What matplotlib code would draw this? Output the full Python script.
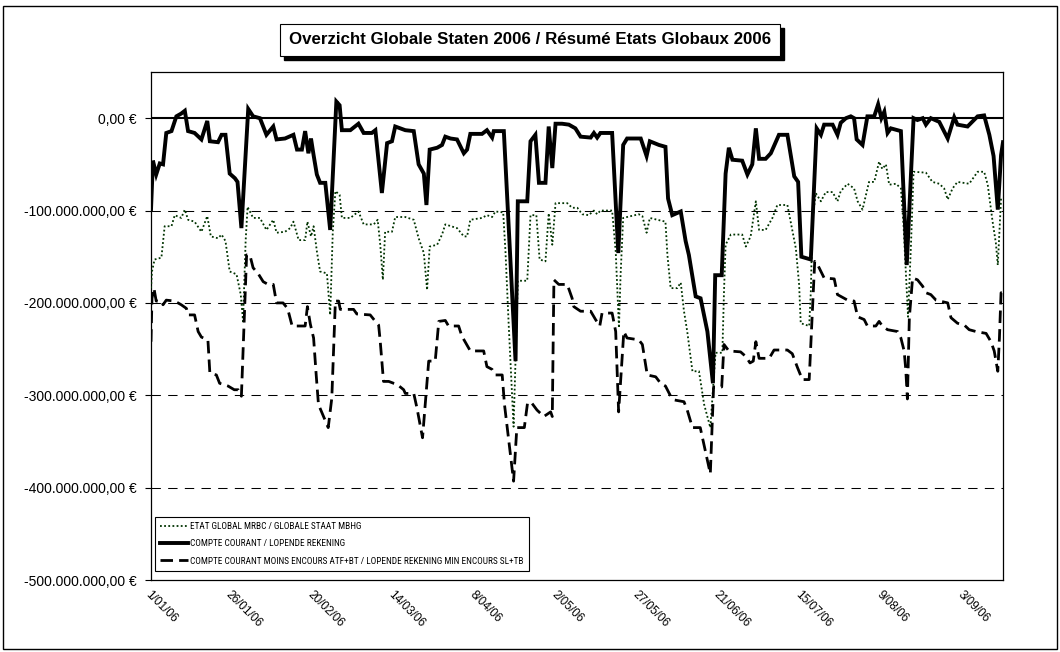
import matplotlib
matplotlib.use("Agg")
import matplotlib.pyplot as plt
import matplotlib.font_manager as fm
from matplotlib.ticker import FuncFormatter, FixedLocator
from matplotlib.patches import Rectangle
from matplotlib.transforms import IdentityTransform

plt.rcParams['font.family'] = ['Liberation Sans', 'DejaVu Sans']

# day index (0 = 1/01/06) and values in millions of euro
courant_x = [
    0, 0.6, 1.6, 2.7, 3.7, 4.7, 6.3, 7.8, 9.3, 10.4,
    11.4, 13.4, 15.5, 17.3, 18.1, 20.6, 21.7, 22.9, 24.2, 25.8,
    26.6, 27.8, 29.9, 31.4, 33.5, 35.5, 37.6, 38.6, 41.2, 43.8,
    44.9, 46.4, 47.4, 48.4, 49.2, 50.0, 51.0, 52.0, 53.6, 55.1,
    57.0, 58.0, 58.7, 61.3, 63.8, 65.4, 67.9, 69.0, 71.0, 72.6,
    74.1, 75.1, 78.2, 80.8, 82.3, 83.9, 84.7, 85.7, 88.0, 89.5,
    90.5, 92.1, 94.1, 96.2, 97.2, 98.2, 101.8, 103.3, 104.9, 105.4,
    108.5, 112.1, 112.8, 115.7, 116.7, 118.2, 119.3, 121.3, 122.3, 123.4,
    124.4, 126.4, 128.5, 130.5, 132.1, 135.2, 136.2, 137.2, 138.2, 141.8,
    143.7, 145.2, 146.4, 150.6, 152.4, 153.4, 156.2, 158.2, 159.0, 160.3,
    162.9, 164.4, 165.4, 167.5, 169.0, 171.1, 172.8, 173.5, 175.5, 176.7,
    177.7, 178.8, 181.8, 183.4, 184.9, 186.0, 187.0, 189.0, 190.6, 193.1,
    195.7, 197.8, 199.0, 200.0, 202.9, 204.7, 206.0, 207.0, 209.6, 211.1,
    212.1, 213.7, 215.2, 216.2, 217.0, 218.8, 220.3, 222.4, 223.6, 224.6,
    225.5, 226.5, 227.5, 230.6, 232.4, 234.5, 235.7, 237.3, 238.3, 239.8,
    242.4, 245.0, 247.0, 248.0, 251.1, 254.2, 256.2, 257.8, 259.1, 260.4,
    261.4, 262.0]
courant_y = [
    -99, -46, -61, -49, -50, -16, -14, 2, 5, 8,
    -14, -16, -23, -3, -25, -26, -18, -18, -60, -65,
    -69, -119, 10, 2, 0, -18, -9, -23, -22, -18,
    -34, -34, -14, -38, -22, -40, -61, -70, -70, -121,
    18, 14, -13, -13, -6, -16, -16, -13, -81, -27,
    -25, -9, -13, -14, -50, -60, -94, -34, -32, -29,
    -20, -22, -23, -38, -34, -17, -17, -13, -21, -14,
    -14, -263, -90, -90, -25, -18, -70, -70, -9, -54,
    -6, -6, -7, -11, -20, -21, -16, -21, -16, -16,
    -146, -29, -22, -22, -41, -25, -29, -31, -87, -105,
    -101, -133, -148, -193, -195, -231, -287, -170, -170, -60,
    -32, -45, -46, -61, -50, -11, -44, -44, -38, -18,
    -18, -63, -69, -150, -153, -11, -18, -7, -7, -18,
    -5, 0, 2, 0, -23, -29, 2, 2, 15, 0,
    7, -16, -11, -14, -159, 0, -2, 0, -7, 0,
    -4, -22, 1, -7, -9, 2, 3, -18, -41, -99,
    -40, -26]

etat_x = [
    0, 0.3, 1.1, 3.2, 4.2, 6.3, 7.3, 9.3, 10.4, 11.4,
    13.4, 15.5, 17.3, 18.4, 20.6, 21.7, 22.9, 24.2, 26.3, 27.6,
    28.3, 29.1, 29.7, 31.4, 33.5, 35.5, 37.6, 38.6, 41.2, 42.8,
    43.8, 45.4, 47.4, 48.1, 49.2, 50.0, 51.0, 52.0, 54.1, 55.1,
    55.9, 56.7, 58.0, 58.7, 61.3, 63.8, 65.4, 68.5, 69.7, 70.5,
    71.3, 72.0, 74.1, 75.1, 78.2, 80.8, 82.3, 83.9, 84.9, 85.7,
    88.0, 89.5, 90.5, 94.1, 96.2, 97.2, 98.2, 101.8, 103.3, 104.9,
    105.9, 108.3, 109.0, 110.0, 111.5, 112.8, 115.7, 116.7, 118.5, 119.5,
    121.3, 122.3, 123.4, 124.4, 126.4, 128.0, 129.5, 131.1, 132.6, 134.6,
    136.2, 137.2, 138.2, 141.8, 142.9, 143.9, 144.4, 145.2, 150.0, 151.1,
    152.4, 153.4, 155.7, 158.2, 158.8, 159.8, 161.8, 162.9, 163.9, 164.9,
    166.5, 168.5, 170.1, 172.0, 173.6, 175.7, 176.2, 176.7, 178.3, 181.8,
    182.9, 184.4, 186.0, 187.0, 189.0, 191.1, 192.6, 195.7, 196.7, 198.3,
    199.3, 199.8, 202.4, 202.9, 203.4, 204.4, 206.0, 207.5, 209.6, 211.1,
    212.1, 214.2, 216.2, 217.3, 218.8, 220.8, 222.4, 223.9, 224.9, 226.0,
    227.0, 229.1, 230.6, 231.4, 232.1, 232.8, 233.7, 234.5, 238.3, 240.3,
    242.4, 243.9, 245.0, 246.5, 248.0, 251.6, 254.2, 256.2, 257.3, 258.8,
    259.8, 260.4, 261.4, 262.0]
etat_y = [
    -184, -166, -153, -151, -117, -117, -105, -108, -99, -110,
    -112, -123, -106, -128, -130, -126, -133, -166, -169, -191,
    -220, -133, -96, -108, -108, -121, -110, -124, -123, -119,
    -112, -132, -132, -112, -128, -117, -144, -166, -168, -213,
    -123, -79, -83, -108, -108, -101, -115, -115, -110, -137,
    -175, -123, -123, -107, -107, -110, -130, -146, -186, -139,
    -137, -126, -115, -119, -128, -128, -110, -108, -105, -107,
    -101, -102, -144, -224, -334, -176, -176, -105, -105, -153,
    -155, -103, -137, -92, -92, -92, -97, -97, -104, -105,
    -100, -104, -100, -100, -144, -227, -170, -108, -104, -106,
    -124, -108, -110, -112, -148, -184, -184, -178, -209, -231,
    -274, -274, -310, -335, -254, -254, -188, -137, -126, -126,
    -139, -128, -90, -121, -121, -108, -94, -94, -112, -141,
    -180, -222, -225, -188, -112, -81, -90, -80, -80, -90,
    -79, -71, -76, -90, -99, -69, -69, -47, -55, -50,
    -72, -71, -76, -115, -166, -215, -137, -58, -59, -69,
    -71, -76, -88, -76, -69, -71, -58, -58, -72, -112,
    -135, -159, -87, -87]

encours_x = [
    0, 0.3, 0.9, 1.6, 3.2, 3.7, 4.7, 7.3, 9.3, 10.9,
    11.4, 13.4, 14.5, 15.5, 17.5, 18.1, 20.1, 21.1, 23.7, 25.6,
    26.8, 27.8, 29.4, 30.4, 31.4, 32.9, 34.5, 36.0, 37.6, 38.6,
    40.6, 42.0, 43.4, 47.4, 48.1, 49.0, 50.0, 50.8, 51.5, 54.5,
    55.6, 56.7, 57.7, 58.2, 62.3, 63.3, 67.4, 69.0, 70.0, 70.5,
    71.5, 73.1, 74.6, 75.6, 77.7, 78.2, 80.8, 81.8, 83.5, 85.4,
    87.4, 88.5, 90.5, 91.5, 94.6, 95.6, 98.2, 102.3, 103.3, 104.9,
    105.9, 108.0, 108.7, 111.5, 112.5, 114.8, 115.8, 117.0, 118.7, 120.8,
    122.9, 123.4, 123.9, 125.4, 128.0, 129.5, 130.0, 132.1, 135.2, 136.7,
    138.0, 138.7, 141.8, 142.9, 143.8, 144.9, 145.4, 146.4, 150.0, 151.1,
    152.6, 155.2, 156.7, 158.2, 159.8, 160.8, 163.9, 164.9, 166.5, 168.9,
    172.0, 173.0, 175.5, 176.2, 177.7, 181.3, 182.9, 184.2, 185.2, 186.0,
    187.0, 190.1, 191.6, 195.7, 197.2, 198.8, 200.3, 202.4, 204.1, 204.9,
    207.0, 210.1, 211.1, 214.2, 216.2, 217.3, 219.3, 220.3, 222.9, 223.9,
    224.9, 226.5, 229.6, 230.6, 231.6, 232.1, 232.6, 233.2, 234.2, 235.7,
    237.3, 238.3, 239.8, 241.4, 245.0, 246.0, 248.0, 250.1, 251.6, 253.7,
    256.8, 258.3, 259.3, 260.4, 260.9, 261.4, 262.0]
encours_y = [
    -242, -195, -184, -198, -198, -202, -197, -198, -202, -206,
    -213, -213, -231, -237, -240, -276, -278, -287, -290, -294,
    -294, -301, -148, -148, -162, -168, -177, -180, -180, -200,
    -200, -206, -225, -225, -204, -223, -238, -278, -310, -335,
    -303, -198, -198, -207, -207, -212, -213, -220, -224, -242,
    -285, -285, -287, -288, -294, -298, -298, -314, -346, -263,
    -263, -220, -219, -225, -225, -236, -252, -252, -269, -272,
    -278, -278, -310, -393, -335, -335, -308, -308, -316, -323,
    -318, -323, -175, -180, -180, -195, -204, -209, -209, -218,
    -225, -211, -211, -231, -318, -259, -231, -238, -240, -245,
    -278, -280, -287, -290, -301, -305, -307, -316, -335, -335,
    -385, -291, -291, -245, -252, -253, -258, -265, -263, -242,
    -260, -260, -251, -251, -255, -270, -283, -283, -155, -158,
    -173, -174, -191, -197, -198, -215, -218, -225, -225, -220,
    -225, -229, -231, -238, -252, -272, -304, -216, -173, -175,
    -182, -189, -191, -197, -200, -216, -222, -224, -229, -231,
    -233, -242, -252, -274, -238, -189, -189]

date_labels = ['1/01/06', '26/01/06', '20/02/06', '14/03/06', '8/04/06', '2/05/06',
               '27/05/06', '21/06/06', '15/07/06', '9/08/06', '3/09/06']
date_ticks = [0, 25, 50, 75, 100, 125, 150, 175, 200, 225, 250]

series_names = ['ETAT GLOBAL MRBC / GLOBALE STAAT MBHG',
                'COMPTE COURANT / LOPENDE REKENING',
                'COMPTE COURANT MOINS ENCOURS ATF+BT / LOPENDE REKENING MIN ENCOURS SL+TB']

M = 1e6
W, H = 1060, 652
fig = plt.figure(figsize=(W / 100, H / 100), dpi=100)
ax = fig.add_axes([151 / W, 1 - 580 / H, 852 / W, 508 / H])

ax.plot(etat_x, [v * M for v in etat_y], color='#003300', lw=1.3,
        linestyle=(0, (1, 1.3)), label=series_names[0], zorder=3)
ax.plot(courant_x, [v * M for v in courant_y], color='black', lw=2.8,
        solid_joinstyle='miter', label=series_names[1], zorder=4)
ax.plot(encours_x, [v * M for v in encours_y], color='black', lw=2.0,
        linestyle=(0, (4.5, 2.2)), label=series_names[2], zorder=3)

ax.set_xlim(0, 262)
ax.set_ylim(-500 * M, 50 * M)

# category axis crosses at zero
ax.axhline(0, color='black', lw=1.5, zorder=5)
for g in [-100, -200, -300, -400]:
    ax.axhline(g * M, color='black', lw=0.75, linestyle=(0, (9, 7)), zorder=1)

def euro(v, pos):
    s = f"{v:,.2f}".replace(',', 'X').replace('.', ',').replace('X', '.')
    return s + " €"

ax.yaxis.set_major_locator(FixedLocator([y * M for y in [0, -100, -200, -300, -400, -500]]))
ax.yaxis.set_major_formatter(FuncFormatter(euro))
ax.tick_params(axis='y', direction='out', length=4, width=0.8, pad=6, labelsize=10)

ax.set_xticks(date_ticks)
ax.set_xticklabels(date_labels, rotation=-45, ha='left', va='top',
                   rotation_mode='anchor', fontsize=8.5)
ax.tick_params(axis='x', length=0, pad=6)

for s in ax.spines.values():
    s.set_linewidth(0.9)
    s.set_color('black')

# legend font: a narrow face if one is installed, sized to keep the box compact
names = {f.name for f in fm.fontManager.ttflist}
leg_family = ['Liberation Sans', 'DejaVu Sans']
for cand in ['Liberation Sans Narrow', 'Arial Narrow', 'Roboto Condensed',
             'Open Sans Condensed', 'Noto Sans Condensed']:
    if cand in names:
        leg_family = [cand] + leg_family
        break
renderer = fig.canvas.get_renderer()
probe = fig.text(0, 0, series_names[2], fontsize=7, family=leg_family)
w7 = probe.get_window_extent(renderer).width
probe.remove()
leg_fs = min(7.0, 7.0 * 335 / w7)
fs_px = leg_fs * 100 / 72
leg = fig.legend(loc='upper left', bbox_to_anchor=(155 / W, 1 - 517 / H),
                 frameon=True, fancybox=False, framealpha=1, edgecolor='black',
                 prop={'family': leg_family, 'size': leg_fs},
                 handlelength=28 / fs_px, handletextpad=2 / fs_px,
                 borderpad=5 / fs_px, labelspacing=(19 - 1.15 * fs_px) / fs_px,
                 borderaxespad=0)
leg.get_frame().set_linewidth(0.8)

title = 'Overzicht Globale Staten 2006 / Résumé Etats Globaux 2006'
ttl = fig.text(530 / W, 1 - 40 / H, title, ha='center', va='center',
               fontsize=12.2, fontweight='bold', color='black', zorder=5,
               bbox=dict(boxstyle='square,pad=0.5', facecolor='white',
                         edgecolor='black', lw=0.8))
fig.canvas.draw()
bb = ttl.get_bbox_patch().get_window_extent(renderer)
fig.add_artist(Rectangle((bb.x0 + 4, bb.y0 - 4), bb.width, bb.height,
                         transform=IdentityTransform(), facecolor='black',
                         edgecolor='black', zorder=4))

fig.add_artist(Rectangle((3 / W, 3 / H), 1054 / W, 643 / H, transform=fig.transFigure,
                         fill=False, edgecolor='black', lw=1.0))

fig.savefig('out.png', dpi=100)
